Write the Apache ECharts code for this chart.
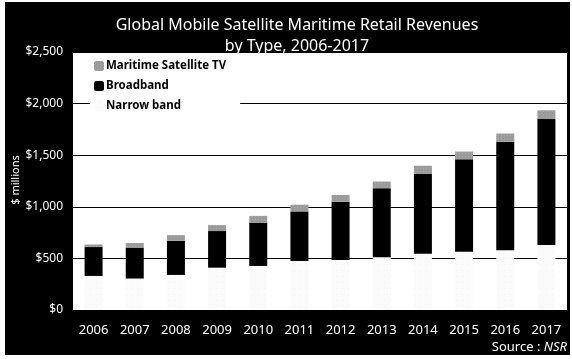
<!DOCTYPE html>
<html><head><meta charset="utf-8">
<script src="https://cdn.jsdelivr.net/npm/echarts@6/dist/echarts.min.js"></script>
<style>html,body{margin:0;padding:0;background:#fff;}#c{width:572px;height:359px;}</style>
</head><body><div id="c"></div>
<script>
const years = ['2006','2007','2008','2009','2010','2011','2012','2013','2014','2015','2016','2017'];
const narrowBand = [330,305,340,410,427,475,485,510,545,565,580,630];
const broadband = [280,300,330,355,420,480,565,670,775,895,1050,1220];
const maritimeTV = [25,45,55,58,65,65,65,65,78,75,80,85];
const yTicks = [0,500,1000,1500,2000,2500];

const chart = echarts.init(document.getElementById('c'), null, {renderer:'canvas'});
const font = 'Noto Sans';
chart.setOption({
  backgroundColor: '#fff',
  animation: false,
  title: {
    text:'Global Mobile Satellite Maritime Retail Revenues\nby Type, 2006-2017',
    left: 292, top: 10, textAlign:'center',
    textStyle:{color:'#fff', fontFamily:font, fontSize:16, fontWeight:'normal', lineHeight:21, align:'center'}
  },
  graphic: [
    {type:'rect', z:-10, shape:{x:5,y:2,width:565,height:353}, style:{fill:'#000'}},
    {type:'text', x:16, y:180, rotation:Math.PI/2, style:{text:'$ millions', fill:'#fff', font:'11px "Noto Sans"', align:'center', verticalAlign:'middle'}},
    {type:'text', right:5, top:341, style:{rich:{a:{fill:'#fff', font:'13px "Noto Sans"'}, b:{fill:'#fff', font:'italic 13px "Noto Sans"'}}, text:'{a|Source : }{b|NSR}'}}
  ],
  grid: {left:73, right:5, top:52, bottom:49, show:true, backgroundColor:'#fff', borderWidth:0},
  legend: {
    left: 90, top: 58, orient:'vertical', itemGap:8, itemWidth:10, itemHeight:10,
    backgroundColor:'#fff', padding:[2,14,2,4],
    data:['Maritime Satellite TV','Broadband','Narrow band'],
    textStyle:{color:'#000', fontFamily:font, fontSize:11.5, fontWeight:'bold', padding:[0,0,0,-3]}
  },
  xAxis: {type:'category', data:years, axisLine:{show:false}, axisTick:{show:false},
    axisLabel:{color:'#fff', fontFamily:font, fontSize:13, margin:14}},
  yAxis: {type:'value', min:0, max:2500, interval:500,
    axisLine:{show:false}, axisTick:{show:false},
    splitLine:{lineStyle:{color:'#000', width:1}},
    axisLabel:{color:'#fff', fontFamily:font, fontSize:12, margin:10,
      formatter: v => yTicks.includes(v) ? '$' + v.toLocaleString('en-US') : ''}},
  series: [
    {name:'Narrow band', type:'bar', stack:'a', data:narrowBand, barWidth:18,
      itemStyle:{color:'#fbfbfb', decal:{symbol:'rect', symbolSize:0.5, color:'rgba(120,120,120,0.3)', dashArrayX:[1,5], dashArrayY:[1,5]}}},
    {name:'Broadband', type:'bar', stack:'a', data:broadband, barWidth:18, itemStyle:{color:'#000'}},
    {name:'Maritime Satellite TV', type:'bar', stack:'a', data:maritimeTV, barWidth:18,
      itemStyle:{color:'#9a9a9a', decal:{symbol:'rect', symbolSize:0.6, color:'rgba(255,255,255,0.6)', dashArrayX:[1,2], dashArrayY:[1,2]}}}
  ],
  aria:{enabled:false}
});
</script></body></html>
